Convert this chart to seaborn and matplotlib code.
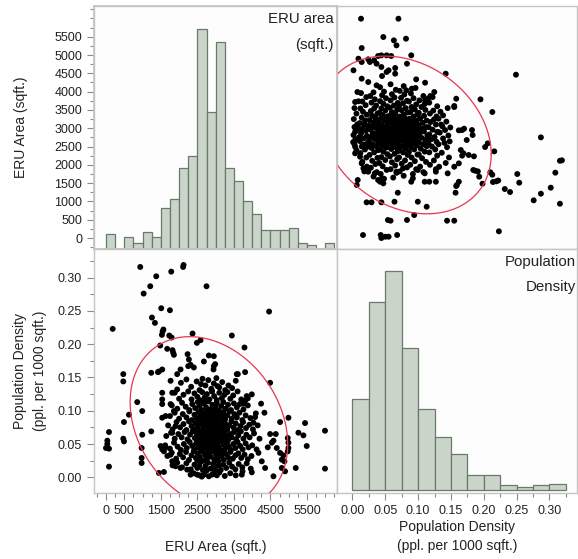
"""
Scatterplot matrix: ERU area vs population density
"""
import numpy as np
import pandas as pd
import matplotlib
matplotlib.use("Agg")
import matplotlib.pyplot as plt
import seaborn as sns
from matplotlib.ticker import MultipleLocator, FixedLocator

# histogram counts
eru_bin_width = 250
eru_bin_left = list(range(0, 6250, 250))
eru_counts = [7, 0, 6, 3, 8, 6, 20, 24, 39, 45, 106, 66, 100,
              39, 33, 23, 17, 9, 9, 9, 10, 3, 2, 0, 3]

pop_bin_width = 0.025
pop_bin_left = [0.0, 0.025, 0.05, 0.075, 0.1, 0.125, 0.15,
                0.175, 0.2, 0.225, 0.25, 0.275, 0.3]
pop_counts = [55, 113, 131, 85, 49, 32, 22, 9, 9, 3, 2, 3, 4]

# scatter points (eru area, population density)
sparse_upper = [
    (937, 0.316), (2123, 0.319), (2110, 0.316), (1375, 0.302), (1785, 0.309),
    (1211, 0.287), (1030, 0.276), (2750, 0.287), (1512, 0.254), (1749, 0.251),
    (183, 0.223), (1257, 0.240), (1339, 0.232), (1571, 0.222), (1549, 0.219),
    (1530, 0.214), (1730, 0.213), (1795, 0.210), (2368, 0.216), (2587, 0.206),
    (2486, 0.202), (1484, 0.198), (1675, 0.193), (1820, 0.191), (1839, 0.187),
    (1858, 0.184), (2232, 0.185), (2268, 0.177), (2314, 0.169), (2250, 0.167),
    (2678, 0.174), (2814, 0.183), (2950, 0.182), (2404, 0.165), (2040, 0.162),
    (1538, 0.162), (1448, 0.159), (1238, 0.157), (473, 0.155), (473, 0.144),
    (4462, 0.249), (3443, 0.213), (3789, 0.195), (2987, 0.170), (2942, 0.162),
    (3806, 0.158), (3579, 0.155), (4490, 0.142), (2950, 0.167), (3607, 0.155),
]
sparse_left = [
    (82, 0.068), (36, 0.055), (36, 0.050), (0, 0.044), (82, 0.043), (82, 0.016),
    (473, 0.058), (492, 0.054), (492, 0.083), (628, 0.094), (855, 0.113),
    (992, 0.0995), (992, 0.064), (975, 0.044), (975, 0.029), (975, 0.0215),
    (1238, 0.069), (1421, 0.158), (1538, 0.127), (1538, 0.117), (1538, 0.110),
    (1538, 0.0895), (1494, 0.047), (1538, 0.042), (1631, 0.045), (1585, 0.039),
    (1448, 0.0065), (1585, 0.008), (1767, 0.145), (1948, 0.155), (1812, 0.127),
    (1948, 0.132), (1767, 0.110), (1858, 0.0995), (1631, 0.092), (1812, 0.067),
    (1904, 0.077), (1767, 0.034), (1812, 0.024), (1904, 0.0166), (2040, 0.014),
    (2221, 0.0115), (2314, 0.004), (2494, 0.004), (2814, 0.0015), (2678, 0.004),
    (2950, 0.005),
]
sparse_right = [
    (3989, 0.1246), (3880, 0.1186), (3806, 0.115), (3762, 0.1106), (4243, 0.1106),
    (4335, 0.097), (4080, 0.0905), (4035, 0.082), (4763, 0.083), (4991, 0.0895),
    (5446, 0.0815), (5992, 0.070), (5264, 0.067), (5401, 0.063), (5492, 0.047),
    (4490, 0.065), (4645, 0.065), (4582, 0.055), (4536, 0.052), (4426, 0.045),
    (4672, 0.044), (4973, 0.059), (4991, 0.052), (4991, 0.044), (4973, 0.039),
    (4763, 0.0367), (4854, 0.033), (4809, 0.0265), (4882, 0.024), (4809, 0.014),
    (4899, 0.009), (5191, 0.014), (5992, 0.013), (4582, 0.0015), (4353, 0.014),
    (4262, 0.024), (4172, 0.0367), (3989, 0.0075), (3716, 0.004), (3735, 0.009),
    (3033, 0.003),
]
core_high = [
    (2050, 0.142), (2200, 0.147), (2330, 0.136), (2480, 0.144), (2560, 0.131),
    (2640, 0.148), (2720, 0.138), (2800, 0.146), (2880, 0.133), (2950, 0.141),
    (3020, 0.149), (3100, 0.135), (3180, 0.143), (3260, 0.131), (3350, 0.138),
    (3450, 0.134), (3550, 0.145), (2600, 0.140), (2900, 0.130), (3050, 0.137),
    (1880, 0.127), (2000, 0.118), (2120, 0.124), (2250, 0.129), (2340, 0.117),
    (2420, 0.126), (2500, 0.121), (2570, 0.116), (2630, 0.128), (2700, 0.120),
    (2760, 0.125), (2830, 0.117), (2900, 0.129), (2960, 0.122), (3030, 0.116),
    (3100, 0.127), (3170, 0.119), (3240, 0.124), (3320, 0.128), (3400, 0.118),
    (3480, 0.123), (3600, 0.129), (3700, 0.117), (3850, 0.122), (2680, 0.115),
    (1800, 0.108), (1950, 0.103), (2080, 0.112), (2180, 0.106), (2280, 0.101),
    (2360, 0.110), (2440, 0.104), (2510, 0.113), (2560, 0.107), (2620, 0.101),
    (2680, 0.111), (2740, 0.105), (2790, 0.114), (2850, 0.102), (2910, 0.109),
    (2970, 0.104), (3030, 0.112), (3090, 0.100), (3150, 0.107), (3210, 0.113),
    (3270, 0.103), (3340, 0.109), (3420, 0.101), (3500, 0.111), (3580, 0.105),
    (3660, 0.110), (3760, 0.102), (3880, 0.108), (2600, 0.114), (3000, 0.106),
]
core_mid = [
    (1750, 0.092), (1880, 0.097), (2000, 0.088), (2100, 0.095), (2200, 0.090),
    (2280, 0.099), (2350, 0.086), (2420, 0.094), (2480, 0.089), (2530, 0.098),
    (2580, 0.091), (2630, 0.086), (2670, 0.096), (2720, 0.090), (2770, 0.099),
    (2820, 0.087), (2870, 0.094), (2920, 0.089), (2960, 0.097), (3010, 0.092),
    (3060, 0.086), (3110, 0.095), (3160, 0.090), (3210, 0.098), (3260, 0.087),
    (3320, 0.093), (3380, 0.099), (3440, 0.088), (3510, 0.095), (3580, 0.090),
    (3650, 0.097), (3730, 0.086), (3820, 0.093), (3950, 0.089), (4100, 0.096),
    (2550, 0.087), (2750, 0.093), (2980, 0.087), (3040, 0.099), (3230, 0.091),
    (1700, 0.078), (1820, 0.072), (1930, 0.083), (2030, 0.075), (2120, 0.080),
    (2200, 0.071), (2270, 0.084), (2340, 0.077), (2400, 0.072), (2450, 0.081),
    (2500, 0.074), (2540, 0.079), (2580, 0.084), (2620, 0.071), (2660, 0.077),
    (2700, 0.082), (2740, 0.073), (2780, 0.079), (2820, 0.085), (2860, 0.070),
    (2900, 0.076), (2940, 0.082), (2980, 0.073), (3020, 0.079), (3060, 0.084),
    (3100, 0.071), (3140, 0.077), (3180, 0.082), (3220, 0.074), (3270, 0.080),
    (3320, 0.072), (3370, 0.078), (3430, 0.084), (3490, 0.075), (3550, 0.081),
    (3610, 0.071), (3680, 0.077), (3750, 0.083), (3830, 0.074), (3920, 0.079),
    (4020, 0.072), (4150, 0.078), (2520, 0.070), (2680, 0.085), (2880, 0.080),
    (3040, 0.075), (3200, 0.070), (3000, 0.084), (2560, 0.082), (2760, 0.076),
    (1650, 0.062), (1780, 0.067), (1880, 0.058), (1980, 0.065), (2070, 0.060),
    (2150, 0.068), (2230, 0.057), (2300, 0.064), (2370, 0.069), (2430, 0.059),
    (2480, 0.066), (2520, 0.061), (2560, 0.056), (2600, 0.067), (2640, 0.062),
    (2680, 0.057), (2720, 0.065), (2760, 0.069), (2800, 0.060), (2840, 0.055),
    (2880, 0.066), (2920, 0.061), (2960, 0.068), (3000, 0.058), (3040, 0.063),
    (3080, 0.069), (3120, 0.056), (3160, 0.064), (3200, 0.059), (3240, 0.067),
    (3290, 0.062), (3340, 0.056), (3390, 0.065), (3440, 0.060), (3500, 0.068),
    (3560, 0.057), (3620, 0.063), (3690, 0.069), (3760, 0.058), (3840, 0.064),
    (3930, 0.060), (4050, 0.066), (4200, 0.058), (2500, 0.055), (2620, 0.070),
    (2780, 0.063), (2940, 0.056), (3100, 0.062), (3260, 0.055), (2700, 0.060),
    (3020, 0.066), (3180, 0.068), (2580, 0.063), (2860, 0.068), (3060, 0.057),
]
core_low = [
    (1620, 0.048), (1750, 0.043), (1860, 0.052), (1960, 0.046), (2050, 0.041),
    (2130, 0.050), (2210, 0.044), (2290, 0.053), (2360, 0.047), (2420, 0.042),
    (2470, 0.051), (2520, 0.045), (2560, 0.054), (2600, 0.040), (2640, 0.049),
    (2690, 0.043), (2730, 0.052), (2770, 0.046), (2810, 0.041), (2850, 0.050),
    (2890, 0.044), (2930, 0.053), (2970, 0.047), (3010, 0.042), (3050, 0.051),
    (3090, 0.045), (3130, 0.054), (3170, 0.040), (3210, 0.049), (3260, 0.043),
    (3310, 0.052), (3360, 0.046), (3420, 0.041), (3480, 0.050), (3540, 0.044),
    (3600, 0.053), (3670, 0.047), (3740, 0.042), (3820, 0.051), (3900, 0.045),
    (4000, 0.048), (4120, 0.042), (2580, 0.047), (2750, 0.040), (2900, 0.048),
    (3080, 0.041), (2660, 0.055), (3000, 0.055),
    (1680, 0.032), (1800, 0.037), (1920, 0.028), (2020, 0.035), (2110, 0.030),
    (2190, 0.038), (2270, 0.026), (2340, 0.033), (2400, 0.039), (2460, 0.029),
    (2510, 0.036), (2560, 0.031), (2610, 0.026), (2660, 0.038), (2710, 0.033),
    (2760, 0.028), (2810, 0.036), (2860, 0.031), (2910, 0.039), (2960, 0.027),
    (3010, 0.034), (3060, 0.029), (3110, 0.037), (3160, 0.032), (3220, 0.026),
    (3280, 0.035), (3340, 0.030), (3400, 0.038), (3470, 0.028), (3540, 0.033),
    (3620, 0.036), (3700, 0.029), (3790, 0.034), (3880, 0.027), (3980, 0.032),
    (2500, 0.025), (2740, 0.025), (3000, 0.025), (2850, 0.038), (3200, 0.039),
    (1820, 0.018), (1950, 0.022), (2080, 0.015), (2200, 0.021), (2320, 0.012),
    (2420, 0.019), (2500, 0.014), (2580, 0.023), (2650, 0.011), (2720, 0.017),
    (2790, 0.022), (2860, 0.013), (2930, 0.020), (3000, 0.016), (3070, 0.024),
    (3140, 0.011), (3210, 0.019), (3290, 0.014), (3370, 0.022), (3450, 0.016),
    (3540, 0.012), (3630, 0.020), (3730, 0.015), (3850, 0.021), (3960, 0.013),
    (2550, 0.017), (2750, 0.010), (2950, 0.012), (3100, 0.018), (2620, 0.024),
    (2400, 0.006), (2560, 0.003), (2700, 0.008), (2900, 0.004), (3100, 0.007),
    (3250, 0.002), (3400, 0.006), (3550, 0.003), (2620, 0.001), (3000, 0.009),
]

eru_ticks = [0, 500, 1500, 2500, 3500, 4500, 5500]
eru_yticks = list(range(0, 6000, 500))
pop_ticks = [0.0, 0.05, 0.10, 0.15, 0.20, 0.25, 0.30]

ERU_LIM = (-328, 6320)
POP_LIM = (-0.0236, 0.342)

BAR_FILL = "#c9d5c9"
BAR_EDGE = "#6b786b"
SPINE = "#c4c4c4"
TICK = "#8a8a8a"
TXT = "#222222"
DOT_SIZE = 18


def build_points():
    rows = sparse_upper + sparse_left + sparse_right + core_high + core_mid + core_low
    return pd.DataFrame(rows, columns=["eru", "pop"])


def style_axes(ax):
    ax.set_facecolor("#fdfdfd")
    for sp in ax.spines.values():
        sp.set_color(SPINE)
        sp.set_linewidth(1.0)
    ax.tick_params(which="both", color=TICK, labelcolor=TXT, labelsize=9,
                   direction="out")
    ax.tick_params(which="major", length=5, width=0.8)
    ax.tick_params(which="minor", length=3, width=0.8)
    ax.set_xlabel("")
    ax.set_ylabel("")


def density_ellipse(ax, x, y, level_r=2.25, n=300):
    mean = np.array([np.mean(x), np.mean(y)])
    cov = np.cov(np.vstack([x, y]))
    chol = np.linalg.cholesky(cov)
    t = np.linspace(0, 2 * np.pi, n)
    circ = np.vstack([np.cos(t), np.sin(t)]) * level_r
    pts = chol @ circ + mean[:, None]
    ax.plot(pts[0], pts[1], color="#e8364f", lw=0.9, zorder=5)


def main():
    sns.set_theme(style="white")
    plt.rcParams["font.family"] = ["Liberation Sans", "DejaVu Sans"]

    df = build_points()
    fig = plt.figure(figsize=(5.78, 5.59), dpi=100)
    W, H = 578.0, 559.0
    x0, x1, x2 = 94, 337, 577
    y0, y1, y2 = 6, 249, 493
    ax_tl = fig.add_axes([x0 / W, 1 - y1 / H, (x1 - x0) / W, (y1 - y0) / H])
    ax_tr = fig.add_axes([x1 / W, 1 - y1 / H, (x2 - x1) / W, (y1 - y0) / H])
    ax_bl = fig.add_axes([x0 / W, 1 - y2 / H, (x1 - x0) / W, (y2 - y1) / H])
    ax_br = fig.add_axes([x1 / W, 1 - y2 / H, (x2 - x1) / W, (y2 - y1) / H])

    for ax in (ax_tl, ax_tr, ax_bl, ax_br):
        style_axes(ax)

    # top-left: ERU histogram (counts on a twin axis), ERU tick labels on left
    ax_tl.set_xlim(*ERU_LIM)
    ax_tl.set_ylim(-300, 6339)
    ax_tl.yaxis.set_major_locator(FixedLocator(eru_yticks))
    ax_tl.yaxis.set_minor_locator(MultipleLocator(250))
    ax_tl.set_yticklabels([str(v) for v in eru_yticks])
    ax_tl.tick_params(axis="x", which="both", bottom=False, labelbottom=False)
    ax_tl.tick_params(axis="y", which="both", left=True)

    ax_h = ax_tl.twinx()
    eru_centers = [v + eru_bin_width / 2 for v in eru_bin_left]
    eru_edges = eru_bin_left + [eru_bin_left[-1] + eru_bin_width]
    sns.histplot(x=eru_centers, weights=eru_counts, bins=eru_edges, ax=ax_h,
                 color=BAR_FILL, edgecolor=BAR_EDGE, linewidth=0.9, alpha=1)
    ax_h.set_ylim(0, max(eru_counts) / 0.905)
    ax_h.set_xlim(*ERU_LIM)
    ax_h.set_yticks([])
    ax_h.set_ylabel("")
    for sp in ax_h.spines.values():
        sp.set_color(SPINE)
    ax_tl.text(0.985, 0.975, "ERU area", transform=ax_tl.transAxes,
               ha="right", va="top", fontsize=10.8, color=TXT, zorder=10)
    ax_tl.text(0.985, 0.87, "(sqft.)", transform=ax_tl.transAxes,
               ha="right", va="top", fontsize=10.8, color=TXT, zorder=10)
    ax_tl.set_ylabel("ERU Area (sqft.)", fontsize=10, color=TXT, labelpad=19)

    # top-right: ERU (y) vs population density (x)
    sns.scatterplot(data=df, x="pop", y="eru", ax=ax_tr, color="black",
                    s=DOT_SIZE, edgecolor="none", linewidth=0)
    density_ellipse(ax_tr, df["pop"].values, df["eru"].values)
    ax_tr.set_xlim(*POP_LIM)
    ax_tr.set_ylim(-300, 6339)
    ax_tr.set_xticks([])
    ax_tr.set_yticks([])
    ax_tr.set_xlabel("")
    ax_tr.set_ylabel("")

    # bottom-left: population density (y) vs ERU (x)
    sns.scatterplot(data=df, x="eru", y="pop", ax=ax_bl, color="black",
                    s=DOT_SIZE, edgecolor="none", linewidth=0)
    density_ellipse(ax_bl, df["eru"].values, df["pop"].values)
    ax_bl.set_xlim(*ERU_LIM)
    ax_bl.set_ylim(POP_LIM[0], 0.343)
    ax_bl.xaxis.set_major_locator(FixedLocator(eru_ticks))
    ax_bl.xaxis.set_minor_locator(MultipleLocator(250))
    ax_bl.set_xticklabels([str(v) for v in eru_ticks])
    ax_bl.yaxis.set_major_locator(FixedLocator(pop_ticks))
    ax_bl.yaxis.set_minor_locator(MultipleLocator(0.025))
    ax_bl.set_yticklabels([f"{v:.2f}" for v in pop_ticks])
    ax_bl.tick_params(axis="both", which="both", bottom=True, left=True)
    ax_bl.set_xlabel("ERU Area (sqft.)", fontsize=10, color=TXT, labelpad=17)
    ax_bl.set_ylabel("Population Density\n(ppl. per 1000 sqft.)", fontsize=10,
                     color=TXT, labelpad=8, linespacing=1.5)

    # bottom-right: population density histogram
    pop_centers = [v + pop_bin_width / 2 for v in pop_bin_left]
    pop_edges = pop_bin_left + [pop_bin_left[-1] + pop_bin_width]
    sns.histplot(x=pop_centers, weights=pop_counts, bins=pop_edges, ax=ax_br,
                 color=BAR_FILL, edgecolor=BAR_EDGE, linewidth=0.9, alpha=1)
    top = max(pop_counts) / 0.907
    ax_br.set_ylim(-0.0105 * top, top)
    ax_br.set_xlim(*POP_LIM)
    ax_br.xaxis.set_major_locator(FixedLocator(pop_ticks))
    ax_br.xaxis.set_minor_locator(MultipleLocator(0.025))
    ax_br.set_xticklabels([f"{v:.2f}" for v in pop_ticks])
    ax_br.set_yticks([])
    ax_br.tick_params(axis="x", which="both", bottom=True)
    ax_br.set_xlabel("Population Density\n(ppl. per 1000 sqft.)", fontsize=10,
                     color=TXT, labelpad=2, linespacing=1.5)
    ax_br.set_ylabel("")
    ax_br.text(0.995, 0.975, "Population", transform=ax_br.transAxes,
               ha="right", va="top", fontsize=10.8, color=TXT)
    ax_br.text(0.995, 0.875, "Density", transform=ax_br.transAxes,
               ha="right", va="top", fontsize=10.8, color=TXT)

    fig.savefig("out.png", dpi=100)


if __name__ == "__main__":
    main()
